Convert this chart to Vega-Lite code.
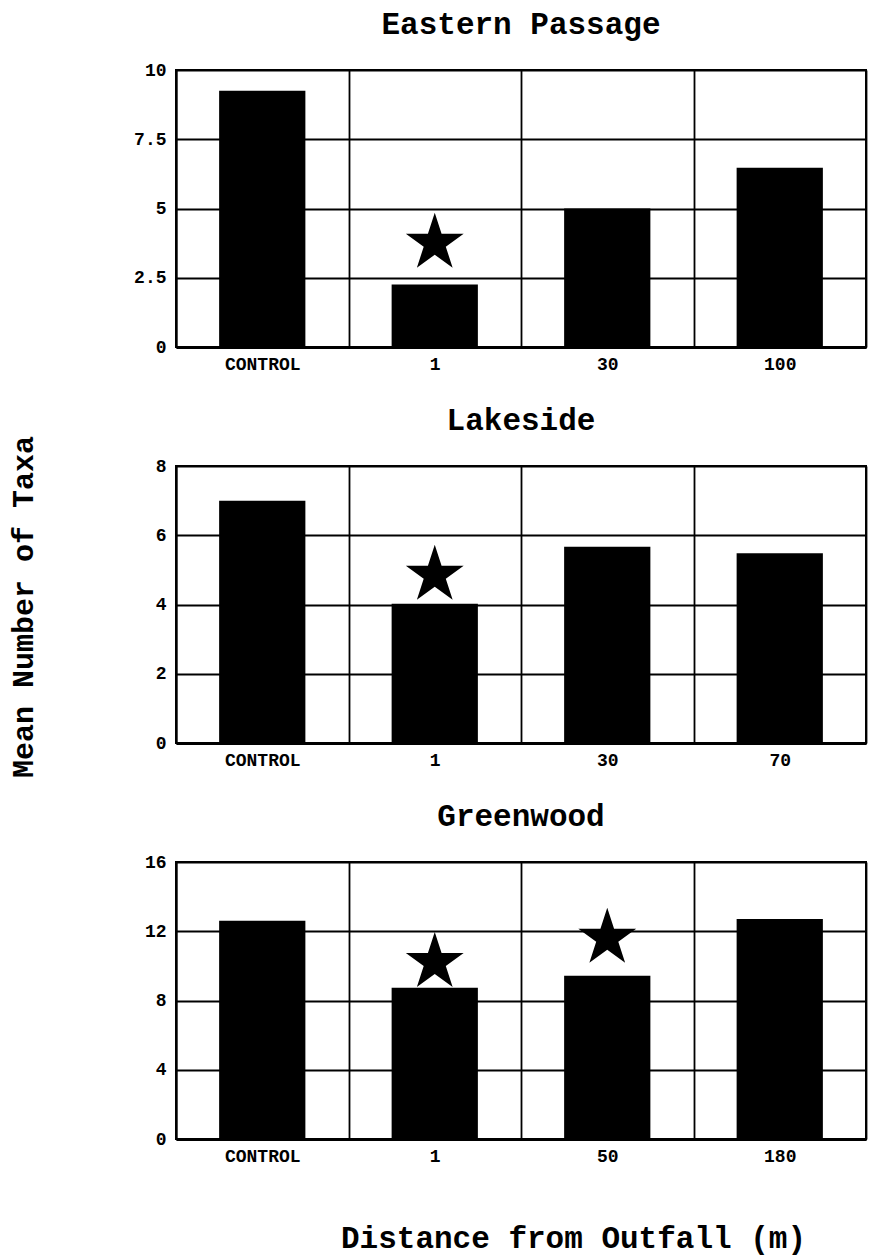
{
  "$schema": "https://vega.github.io/schema/vega-lite/v6.json",
  "background": "white",
  "padding": {"left": 8, "top": 8, "right": 5, "bottom": 5},
  "title": {"text": "Mean Number of Taxa", "orient": "left", "anchor": "middle", "offset": 94, "fontSize": 30, "fontWeight": "bold", "font": "Liberation Mono", "color": "black", "dx": 24},
  "config": {
    "font": "Liberation Mono",
    "view": {"stroke": "black", "strokeWidth": 2},
    "axis": {
      "labelFont": "Liberation Mono", "labelFontWeight": "bold", "labelFontSize": 18, "labelColor": "black",
      "titleFont": "Liberation Mono", "titleFontWeight": "bold", "titleFontSize": 30, "titleColor": "black",
      "gridColor": "black", "gridOpacity": 1, "gridWidth": 1.8,
      "domainColor": "black", "ticks": false
    },
    "title": {"font": "Liberation Mono", "fontSize": 31, "fontWeight": "bold", "color": "black", "offset": 20},
    "concat": {"spacing": 30}
  },
  "datasets": {
    "bars": [
      {"site": "Eastern Passage", "dist": "CONTROL", "taxa": 9.25, "star": null},
      {"site": "Eastern Passage", "dist": "1", "taxa": 2.26, "star": 3.75},
      {"site": "Eastern Passage", "dist": "30", "taxa": 5.0, "star": null},
      {"site": "Eastern Passage", "dist": "100", "taxa": 6.47, "star": null},
      {"site": "Lakeside", "dist": "CONTROL", "taxa": 7.0, "star": null},
      {"site": "Lakeside", "dist": "1", "taxa": 4.02, "star": 4.85},
      {"site": "Lakeside", "dist": "30", "taxa": 5.67, "star": null},
      {"site": "Lakeside", "dist": "70", "taxa": 5.48, "star": null},
      {"site": "Greenwood", "dist": "CONTROL", "taxa": 12.6, "star": null},
      {"site": "Greenwood", "dist": "1", "taxa": 8.74, "star": 10.2},
      {"site": "Greenwood", "dist": "50", "taxa": 9.43, "star": 11.6},
      {"site": "Greenwood", "dist": "180", "taxa": 12.71, "star": null}
    ]
  },
  "vconcat": [
    {
      "title": "Eastern Passage",
      "width": 690, "height": 277,
      "data": {"name": "bars"},
      "transform": [{"filter": "datum.site === 'Eastern Passage'"}],
      "encoding": {
        "x": {"field": "dist", "type": "nominal", "scale": {"domain": ["CONTROL", "1", "30", "100"], "paddingInner": 0, "paddingOuter": 0},
              "axis": {"title": null, "labelAngle": 0, "tickBand": "extent", "grid": true, "labelPadding": 8, "domainWidth": 3}}
      },
      "layer": [
        {"mark": {"type": "bar", "color": "black", "width": {"band": 0.5}},
         "encoding": {"y": {"field": "taxa", "type": "quantitative", "scale": {"domain": [0, 10], "nice": false},
                            "axis": {"title": null, "values": [0, 2.5, 5, 7.5, 10], "labelExpr": "'' + datum.value", "grid": true, "labelPadding": 10, "domainWidth": 2}}}},
        {"transform": [{"filter": "isValid(datum.star)"}],
         "mark": {"type": "point", "shape": "M0,-1L0.2245,-0.309L0.951,-0.309L0.3633,0.118L0.5878,0.809L0,0.382L-0.5878,0.809L-0.3633,0.118L-0.951,-0.309L-0.2245,-0.309Z", "filled": true, "color": "black", "opacity": 1, "size": 3700},
         "encoding": {"y": {"field": "star", "type": "quantitative", "scale": {"domain": [0, 10], "nice": false},
                            "axis": {"title": null, "values": [0, 2.5, 5, 7.5, 10], "labelExpr": "'' + datum.value", "grid": true, "labelPadding": 10, "domainWidth": 2}}}}
      ]
    },
    {
      "title": "Lakeside",
      "width": 690, "height": 277,
      "data": {"name": "bars"},
      "transform": [{"filter": "datum.site === 'Lakeside'"}],
      "encoding": {
        "x": {"field": "dist", "type": "nominal", "scale": {"domain": ["CONTROL", "1", "30", "70"], "paddingInner": 0, "paddingOuter": 0},
              "axis": {"title": null, "labelAngle": 0, "tickBand": "extent", "grid": true, "labelPadding": 8, "domainWidth": 3}}
      },
      "layer": [
        {"mark": {"type": "bar", "color": "black", "width": {"band": 0.5}},
         "encoding": {"y": {"field": "taxa", "type": "quantitative", "scale": {"domain": [0, 8], "nice": false},
                            "axis": {"title": null, "values": [0, 2, 4, 6, 8], "labelExpr": "'' + datum.value", "grid": true, "labelPadding": 10, "domainWidth": 2}}}},
        {"transform": [{"filter": "isValid(datum.star)"}],
         "mark": {"type": "point", "shape": "M0,-1L0.2245,-0.309L0.951,-0.309L0.3633,0.118L0.5878,0.809L0,0.382L-0.5878,0.809L-0.3633,0.118L-0.951,-0.309L-0.2245,-0.309Z", "filled": true, "color": "black", "opacity": 1, "size": 3700},
         "encoding": {"y": {"field": "star", "type": "quantitative", "scale": {"domain": [0, 8], "nice": false},
                            "axis": {"title": null, "values": [0, 2, 4, 6, 8], "labelExpr": "'' + datum.value", "grid": true, "labelPadding": 10, "domainWidth": 2}}}}
      ]
    },
    {
      "title": "Greenwood",
      "width": 690, "height": 277,
      "data": {"name": "bars"},
      "transform": [{"filter": "datum.site === 'Greenwood'"}],
      "encoding": {
        "x": {"field": "dist", "type": "nominal", "scale": {"domain": ["CONTROL", "1", "50", "180"], "paddingInner": 0, "paddingOuter": 0},
              "axis": {"title": "Distance from Outfall (m)", "labelAngle": 0, "tickBand": "extent", "grid": true, "labelPadding": 8, "domainWidth": 3,
                       "titleX": 397, "titleY": 99, "titleBaseline": "middle", "titleFontSize": 31}}
      },
      "layer": [
        {"mark": {"type": "bar", "color": "black", "width": {"band": 0.5}},
         "encoding": {"y": {"field": "taxa", "type": "quantitative", "scale": {"domain": [0, 16], "nice": false},
                            "axis": {"title": null, "values": [0, 4, 8, 12, 16], "labelExpr": "'' + datum.value", "grid": true, "labelPadding": 10, "domainWidth": 2}}}},
        {"transform": [{"filter": "isValid(datum.star)"}],
         "mark": {"type": "point", "shape": "M0,-1L0.2245,-0.309L0.951,-0.309L0.3633,0.118L0.5878,0.809L0,0.382L-0.5878,0.809L-0.3633,0.118L-0.951,-0.309L-0.2245,-0.309Z", "filled": true, "color": "black", "opacity": 1, "size": 3700},
         "encoding": {"y": {"field": "star", "type": "quantitative", "scale": {"domain": [0, 16], "nice": false},
                            "axis": {"title": null, "values": [0, 4, 8, 12, 16], "labelExpr": "'' + datum.value", "grid": true, "labelPadding": 10, "domainWidth": 2}}}}
      ]
    }
  ]
}
